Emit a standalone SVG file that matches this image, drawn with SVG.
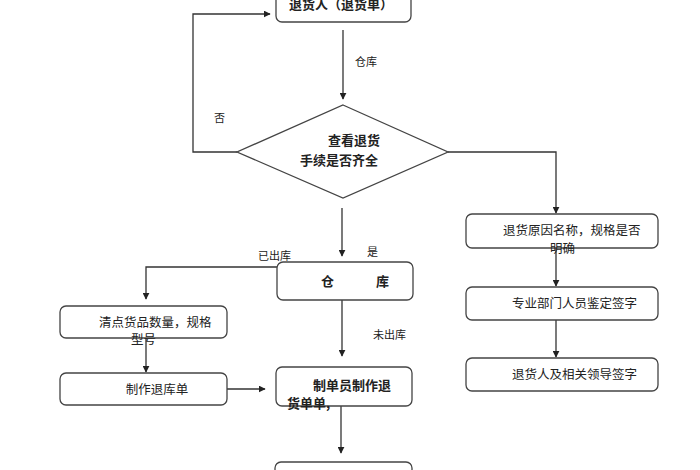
<svg xmlns="http://www.w3.org/2000/svg" width="700" height="470" viewBox="0 0 700 470">
<style>
.box{fill:#fff;stroke:#444;stroke-width:1.3}
.ln{fill:none;stroke:#333;stroke-width:1.3}
.t{font-family:"Noto Sans CJK SC","Liberation Sans",sans-serif;fill:#222}
.b{font-size:13px;font-weight:bold}
.n{font-size:12.5px}
.s{font-size:11px}
</style>
<defs>
<marker id="ah" viewBox="0 0 10 10" refX="9" refY="5" markerWidth="7" markerHeight="7" orient="auto" markerUnits="userSpaceOnUse">
<path d="M0,0 L10,5 L0,10 z" fill="#222"/>
</marker>
</defs>
<rect width="700" height="470" fill="#fff"/>
<g id="connectors">
<path class="ln" d="M343,30 V99" marker-end="url(#ah)"/>
<path class="ln" d="M237,152 H193 V14 H270" marker-end="url(#ah)"/>
<path class="ln" d="M448,152 H556 V213" marker-end="url(#ah)"/>
<path class="ln" d="M556,248 V286" marker-end="url(#ah)"/>
<path class="ln" d="M556,320 V357" marker-end="url(#ah)"/>
<path class="ln" d="M342,208 V256" marker-end="url(#ah)"/>
<path class="ln" d="M277,267 H146 V299" marker-end="url(#ah)"/>
<path class="ln" d="M146,338 V372" marker-end="url(#ah)"/>
<path class="ln" d="M227,389 H265" marker-end="url(#ah)"/>
<path class="ln" d="M342,300 V356" marker-end="url(#ah)"/>
<path class="ln" d="M341,406 V453" marker-end="url(#ah)"/>
</g>
<g id="labels">
<text class="t s" x="355" y="66">仓库</text>
<text class="t s" x="214" y="122">否</text>
<text class="t s" x="367" y="256">是</text>
<text class="t s" x="258" y="260">已出库</text>
<text class="t s" x="373" y="339">未出库</text>
</g>
<g id="n_top">
<rect class="box" x="276" y="-20" width="135" height="42" rx="6"/>
<text class="t b" x="341" y="9" text-anchor="middle">退货人（退货单）</text>
</g>
<g id="n_check">
<polygon class="box" points="343,105 448,152 343,198 237,152"/>
<text class="t b" x="328" y="145">查看退货</text>
<text class="t b" x="300" y="165">手续是否齐全</text>
</g>
<g id="n_reason">
<rect class="box" x="466" y="214" width="192" height="34" rx="6"/>
<text class="t n" x="503" y="235">退货原因名称，规格是否</text>
<text class="t n" x="550" y="253">明确</text>
</g>
<g id="n_dept">
<rect class="box" x="466" y="287" width="192" height="33" rx="6"/>
<text class="t n" x="512" y="308">专业部门人员鉴定签字</text>
</g>
<g id="n_sign">
<rect class="box" x="466" y="358" width="192" height="33" rx="6"/>
<text class="t n" x="512" y="379">退货人及相关领导签字</text>
</g>
<g id="n_wh">
<rect class="box" x="277" y="262" width="136" height="38" rx="6"/>
<text class="t b" x="321" y="286">仓</text>
<text class="t b" x="376" y="286">库</text>
</g>
<g id="n_count">
<rect class="box" x="60" y="306" width="167" height="32" rx="6"/>
<text class="t n" x="99" y="327">清点货品数量，规格</text>
<text class="t n" x="131" y="344">型号</text>
</g>
<g id="n_make">
<rect class="box" x="60" y="373" width="167" height="32" rx="6"/>
<text class="t n" x="157" y="394" text-anchor="middle">制作退库单</text>
</g>
<g id="n_clerk">
<rect class="box" x="276" y="367" width="136" height="39" rx="6"/>
<text class="t b" x="313" y="390">制单员制作退</text>
<text class="t b" x="287" y="408">货单单,</text>
</g>
<g id="n_bottom">
<rect class="box" x="275" y="462" width="137" height="30" rx="6"/>
</g>
</svg>
